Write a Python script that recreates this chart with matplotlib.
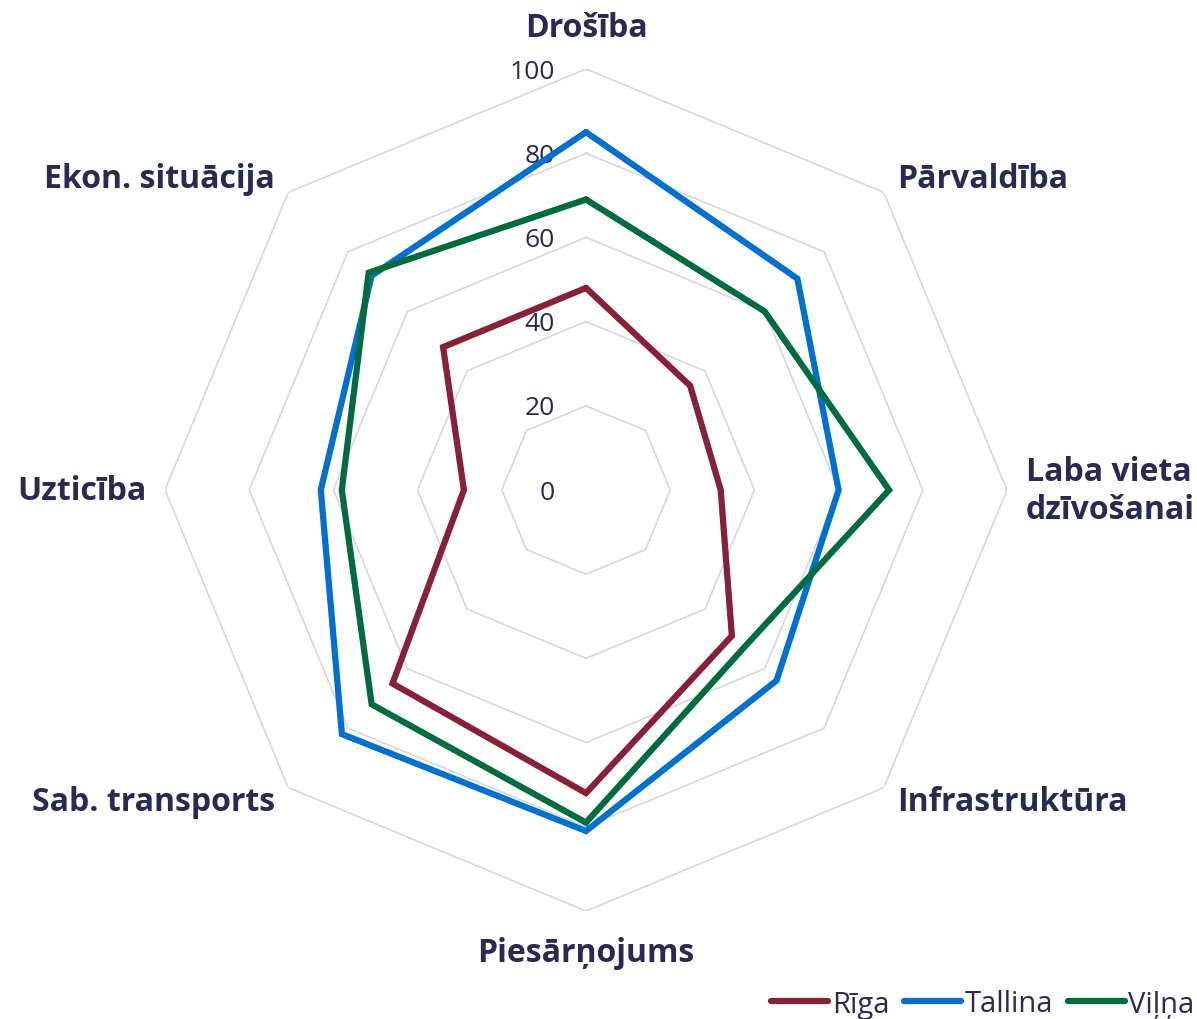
import numpy as np
import matplotlib
matplotlib.use("Agg")
import matplotlib.pyplot as plt
import matplotlib.transforms as mtransforms

# categories clockwise from top
categories = ["Drošība", "Pārvaldība", "Laba vieta\ndzīvošanai", "Infrastruktūra",
              "Piesārņojums", "Sab. transports", "Uzticība", "Ekon. situācija"]
riga = [48, 35, 32, 49, 72, 65, 29, 48]
tallina = [85, 71, 60, 64, 81, 82, 63, 72]
vilna = [69, 60, 72, 53, 79, 72, 58, 73]
series_names = ["Rīga", "Tallina", "Viļņa"]
ticks = [0, 20, 40, 60, 80, 100]

colors = ["#872038", "#0070CE", "#006B3E"]
text_color = "#2A2952"
grid_color = "#D6D5EA"

plt.rcParams['font.family'] = ['Open Sans', 'DejaVu Sans']

fig = plt.figure(figsize=(11.97, 10.2), dpi=100)
cx, cy, R = 586 / 1197, 1 - 491 / 1020, 421
ax = fig.add_axes([cx - R / 1197, cy - R / 1020, 2 * R / 1197, 2 * R / 1020],
                  projection='polar')
ax.set_theta_offset(np.pi / 2)
ax.set_theta_direction(-1)
ax.set_ylim(0, 100)
ax.grid(False)
ax.spines['polar'].set_visible(False)
ax.set_xticks([])
ax.set_yticks([])
ax.patch.set_alpha(0)

n = len(categories)
angles = np.linspace(0, 2 * np.pi, n, endpoint=False)
closed = np.append(angles, angles[0])

# octagon grid
for r in ticks[1:]:
    ax.plot(closed, [r] * (n + 1), color=grid_color, lw=1.2, zorder=1)

# radial tick labels
off = mtransforms.offset_copy(ax.transData, fig=fig, x=-31, y=-2, units='dots')
for r in ticks:
    ax.text(0, r, str(r), transform=off, ha='right', va='center',
            fontsize=19, color=text_color)

for vals, name, c in zip([riga, tallina, vilna], series_names, colors):
    ax.plot(closed, vals + vals[:1], color=c, lw=4.5, label=name, zorder=3,
            solid_joinstyle='miter', solid_capstyle='round')

# category labels
for a, lab in zip(angles, categories):
    s, co = np.sin(a), np.cos(a)
    ha = 'center' if abs(s) < 0.1 else ('left' if s > 0 else 'right')
    if abs(co) < 0.1:
        va = 'center'
    else:
        va = 'center' if abs(s) > 0.1 else ('bottom' if co > 0 else 'top')
    rr = 106 if abs(s) < 0.1 else 104.5
    ax.text(a, rr, lab, ha=ha, va=va, fontsize=23, fontweight='bold',
            color=text_color, linespacing=1.2)

leg = fig.legend(loc='center right', bbox_to_anchor=(0.998, 1 - 1005 / 1020), ncol=3,
                 frameon=False, fontsize=21, handlelength=1.95, handletextpad=0.13,
                 columnspacing=0.5, borderaxespad=0.0, borderpad=0.0)
for t in leg.get_texts():
    t.set_color(text_color)
for h in leg.legend_handles:
    h.set_solid_capstyle('round')
    h.set_linewidth(4.5)

fig.savefig("out.png", dpi=100)
